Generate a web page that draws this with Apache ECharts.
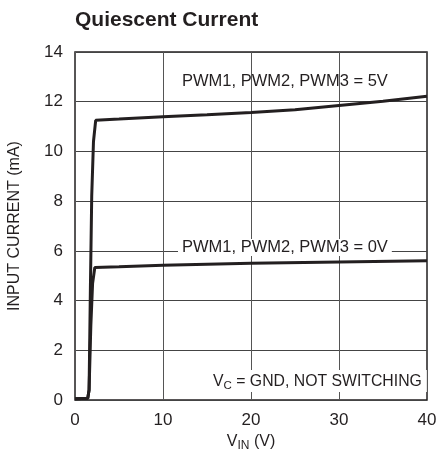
<!DOCTYPE html>
<html>
<head>
<meta charset="utf-8">
<script src="https://cdn.jsdelivr.net/npm/echarts@6/dist/echarts.min.js"></script>
<style>
  html, body { margin: 0; padding: 0; background: #fff; }
  #chart { width: 437px; height: 464px; }
</style>
</head>
<body>
<div id="chart"></div>
<script>
  // data
  var vin5 = [0, 1.45, 1.6, 1.75, 1.9, 2.1, 2.35, 5, 10, 15, 20, 25, 30, 35, 40]
  var i5 = [0.05, 0.07, 0.4, 4.5, 8.2, 10.4, 11.25, 11.3, 11.4, 11.48, 11.57, 11.68, 11.85, 12.02, 12.22]
  var vin0 = [0, 1.45, 1.6, 1.8, 2.0, 2.25, 5, 10, 20, 30, 40]
  var i0 = [0.05, 0.07, 0.4, 3.0, 4.7, 5.33, 5.36, 5.42, 5.5, 5.55, 5.6]
  var xTicks = [0, 10, 20, 30, 40]
  var yTicks = [0, 2, 4, 6, 8, 10, 12, 14]

  var font = '"Liberation Sans", Arial, sans-serif'
  var ink = '#231f20'

  function pairs(xs, ys) {
    return xs.map(function (x, i) { return [x, ys[i]] })
  }

  var myChart = echarts.init(document.getElementById('chart'))
  myChart.setOption({
    animation: false,
    textStyle: { fontFamily: font },
    title: {
      text: 'Quiescent Current',
      left: 75,
      top: 10,
      padding: 0,
      textStyle: { fontFamily: font, fontWeight: 'bold', fontSize: 21, color: ink }
    },
    grid: {
      left: 75, right: 10, top: 52, bottom: 64,
      containLabel: false, outerBoundsMode: 'none',
      show: true, borderColor: ink, borderWidth: 1.5
    },
    xAxis: {
      type: 'value',
      min: xTicks[0],
      max: xTicks[xTicks.length - 1],
      interval: 10,
      name: '{v|V}{s|IN}{v| (V)}',
      nameLocation: 'middle',
      nameGap: 32,
      nameTextStyle: {
        rich: {
          v: { fontFamily: font, fontSize: 16, color: ink },
          s: { fontFamily: font, fontSize: 12, color: ink, verticalAlign: 'bottom', padding: [8, 0, 0, 0] }
        }
      },
      axisLine: { show: false },
      axisTick: { show: false },
      axisLabel: { fontSize: 17, color: ink, margin: 12 },
      splitLine: { show: true, lineStyle: { color: '#555', width: 1 } }
    },
    yAxis: {
      type: 'value',
      min: yTicks[0],
      max: yTicks[yTicks.length - 1],
      interval: 2,
      name: 'INPUT CURRENT (mA)',
      nameLocation: 'middle',
      nameGap: 52,
      nameTextStyle: { fontFamily: font, fontSize: 16, color: ink },
      axisLine: { show: false },
      axisTick: { show: false },
      axisLabel: { fontSize: 17, color: ink, margin: 12 },
      splitLine: { show: true, lineStyle: { color: '#444', width: 1 } }
    },
    series: [
      {
        name: '5V',
        type: 'line',
        data: pairs(vin5, i5),
        showSymbol: false,
        lineStyle: { color: ink, width: 3 },
        z: 5
      },
      {
        name: '0V',
        type: 'line',
        data: pairs(vin0, i0),
        showSymbol: false,
        lineStyle: { color: ink, width: 3 },
        z: 5
      }
    ],
    graphic: [
      {
        type: 'text',
        left: 182,
        top: 73,
        z: 10,
        style: { text: 'PWM1, PWM2, PWM3 = 5V', font: '16.5px ' + font, fill: ink }
      },
      {
        type: 'text',
        left: 178,
        top: 239,
        z: 10,
        style: {
          text: 'PWM1, PWM2, PWM3 = 0V', font: '16.5px ' + font, fill: ink,
          backgroundColor: '#fff', padding: [0, 4, 0, 4]
        }
      },
      {
        type: 'text',
        left: 208,
        top: 370,
        z: 10,
        style: {
          text: '{v|V}{s|C}{v| = GND, NOT SWITCHING}',
          backgroundColor: '#fff',
          padding: [2, 5, 0, 5],
          rich: {
            v: { fontFamily: font, fontSize: 15.8, fill: ink },
            s: { fontFamily: font, fontSize: 11.5, fill: ink, padding: [8, 0, 0, 0] }
          }
        }
      }
    ]
  })
</script>
</body>
</html>
